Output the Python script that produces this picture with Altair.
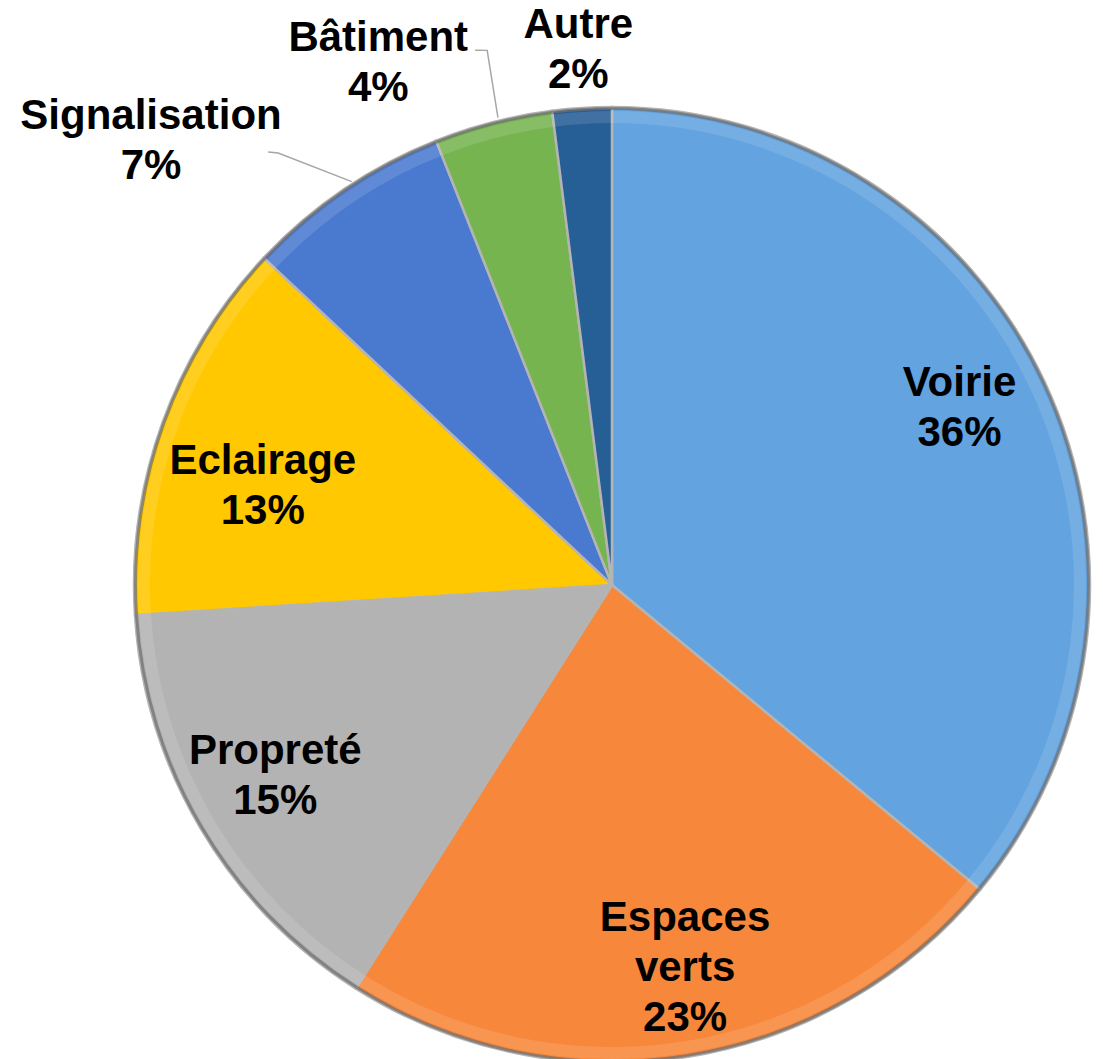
import math
import altair as alt
import pandas as pd

# ---- data ----
categories = ["Voirie", "Espaces verts", "Propreté", "Eclairage", "Signalisation", "Bâtiment", "Autre"]
values = [36, 23, 15, 13, 7, 4, 2]
label_lines = ["Voirie", "Espaces\nverts", "Propreté", "Eclairage", "Signalisation", "Bâtiment", "Autre"]
colors = ["#62A3E0", "#F7873A", "#B3B3B3", "#FFC800", "#4A7AD0", "#76B450", "#265E96"]

# ---- label layout (polar: angle shift in % of the pie, radius in px) ----
label_shift = [-0.5, -0.5, 0.3, -1.1, -3.3, -2.7, 0.0]
label_radius = [390, 390, 387, 363, 640, 572, 536]

# leader lines (polar points: position in % of the pie, radius in px)
leader_cat = ["Signalisation"] * 3 + ["Bâtiment"] * 3
leader_pct = [89.32, 89.53, 90.88, 96.01, 96.35, 96.19]
leader_r = [553, 546, 480, 552, 549, 481]
leader_seq = [0, 1, 2, 0, 1, 2]

W, H = 982, 948
R = 478
LH = 50

df = pd.DataFrame({
    "category": categories,
    "value": values,
    "label": label_lines,
    "order": list(range(len(categories))),
    "shift": label_shift,
    "lr": label_radius,
})
lead = pd.DataFrame({"cat": leader_cat, "pct": leader_pct, "r": leader_r, "seq": leader_seq})

theta_scale = alt.Scale(domain=[0, 100], range=[0, 2 * math.pi])
color_scale = alt.Scale(domain=categories, range=colors)

base = alt.Chart(df).transform_window(
    end="sum(value)", sort=[alt.SortField("order")], frame=[None, 0]
).transform_calculate(
    start="datum.end - datum.value",
    tpos="datum.end - datum.value / 2 + datum.shift",
    txt="datum.label + '\\n' + datum.value + '%'",
)

arcs = base.mark_arc(radius=R, stroke="#b4b4b4", strokeWidth=2.5).encode(
    theta=alt.Theta("start:Q", scale=theta_scale),
    theta2="end:Q",
    color=alt.Color("category:N", scale=color_scale, legend=None),
)

rim = base.mark_arc(radius=R, radius2=R - 3, fill="#6e6e6e", opacity=0.7).encode(
    theta=alt.Theta("start:Q", scale=theta_scale),
    theta2="end:Q",
)

highlight = base.mark_arc(radius=R - 4, radius2=R - 16, fill="white", opacity=0.12).encode(
    theta=alt.Theta("start:Q", scale=theta_scale),
    theta2="end:Q",
)

text_style = dict(
    font="Liberation Sans", fontSize=42, fontWeight="bold", color="black",
    lineBreak="\n", lineHeight=LH, align="center", baseline="middle",
)
text_enc = dict(
    theta=alt.Theta("tpos:Q", scale=theta_scale),
    radius=alt.Radius("lr:Q", scale=None),
    text="txt:N",
)

labels2 = base.transform_filter("indexof(datum.label, '\\n') < 0").mark_text(
    dy=-LH / 2, **text_style
).encode(**text_enc)

labels3 = base.transform_filter("indexof(datum.label, '\\n') >= 0").mark_text(
    dy=-LH, **text_style
).encode(**text_enc)

leaders = alt.Chart(lead).transform_calculate(
    px=f"{W / 2} + datum.r * sin(datum.pct / 100 * 2 * PI)",
    py=f"{H / 2} - datum.r * cos(datum.pct / 100 * 2 * PI)",
).mark_line(stroke="#a6a6a6", strokeWidth=1.5).encode(
    x=alt.X("px:Q", scale=None),
    y=alt.Y("py:Q", scale=None),
    detail="cat:N",
    order="seq:Q",
)

chart = alt.layer(arcs, highlight, rim, leaders, labels2, labels3).properties(
    width=W, height=H,
    autosize=alt.AutoSizeParams(type="none"),
    padding={"left": 121, "top": 111, "right": 0, "bottom": 0},
    background="white",
).configure_view(stroke=None)

chart.save("out.html", embed_options={"renderer": "svg", "actions": False})
